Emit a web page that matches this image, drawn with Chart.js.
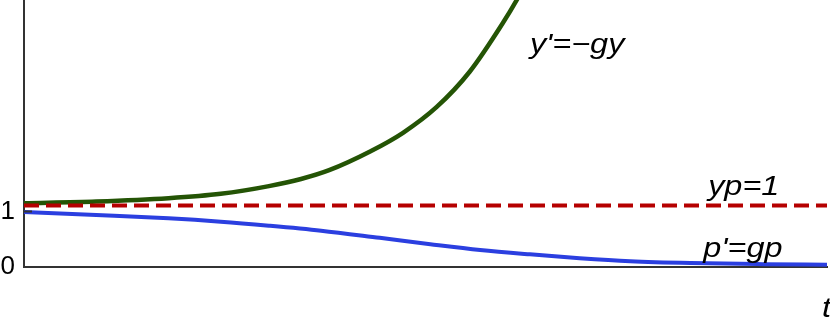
<!DOCTYPE html>
<html>
<head>
<meta charset="utf-8">
<script src="https://cdn.jsdelivr.net/npm/chart.js@4/dist/chart.umd.min.js"></script>
<style>
  html, body { margin: 0; padding: 0; background: #ffffff; }
  #wrap { width: 830px; height: 321px; }
</style>
</head>
<body>
<div id="wrap"><canvas id="c" width="830" height="321"></canvas></div>
<script>
// ---- data ----
const greenT = [0, 0.9, 1.8, 2.45, 3.05, 3.45, 3.8, 4.31, 4.72, 5.14, 5.55, 5.965, 6.15, 6.3];
const greenV = [1.16, 1.19, 1.25, 1.33, 1.47, 1.6, 1.76, 2.1, 2.44, 2.91, 3.55, 4.44, 4.89, 5.3];

const blueT = [0, 0.9, 1.8, 2.45, 3.05, 3.7, 4.43, 5.06, 5.68, 6.3, 6.92, 7.55, 8.3, 9.2, 10];
const blueV = [1.0, 0.945, 0.885, 0.824, 0.751, 0.66, 0.53, 0.415, 0.31, 0.23, 0.16, 0.105, 0.072, 0.052, 0.042];

const redT = [0, 10];
const redV = [1.12, 1.12];

const yTickValues = [0, 1];
const yTickLabels = ['0', '1'];

// annotation texts with their anchor in data units (left, baseline)
const labelTexts = ["y'=\u2212gy", "yp=1", "p'=gp"];
const labelT = [6.3, 8.52, 8.46];
const labelV = [3.89, 1.31, 0.18];
const axisTitle = 't';

const toPts = (xs, ys) => xs.map((x, i) => ({ x: x, y: ys[i] }));

const textPlugin = {
  id: 'textPlugin',
  afterDraw(chart) {
    const ctx = chart.ctx;
    const xs = chart.scales.x, ys = chart.scales.y;
    const ca = chart.chartArea;
    // small tick mark at value 1 on the y axis
    ctx.save();
    ctx.strokeStyle = '#333333';
    ctx.lineWidth = 2;
    const y1 = ys.getPixelForValue(1);
    ctx.beginPath();
    ctx.moveTo(ca.left, y1 - 0.5);
    ctx.lineTo(ca.left + 8, y1 - 0.5);
    ctx.stroke();
    ctx.restore();

    const stretch = 1.2;
    ctx.save();
    ctx.fillStyle = '#000000';
    ctx.font = 'italic 27px "Liberation Sans", Arial, sans-serif';
    ctx.textBaseline = 'alphabetic';
    ctx.textAlign = 'left';
    labelTexts.forEach((txt, i) => {
      const px = xs.getPixelForValue(labelT[i]);
      const py = ys.getPixelForValue(labelV[i]);
      ctx.save();
      ctx.translate(px, py);
      ctx.scale(stretch, 1);
      ctx.fillText(txt, 0, 0);
      ctx.restore();
    });
    // axis title "t"
    ctx.save();
    ctx.translate(ca.right - 5, ca.bottom + 50);
    ctx.scale(stretch, 1);
    ctx.fillText(axisTitle, 0, 0);
    ctx.restore();
    ctx.restore();
  }
};

new Chart(document.getElementById('c'), {
  type: 'line',
  data: {
    datasets: [
      {
        label: 'yp=1',
        data: toPts(redT, redV),
        borderColor: '#b50000',
        borderWidth: 4,
        borderDash: [15, 7],
        pointRadius: 0,
        fill: false
      },
      {
        label: "y'=-gy",
        data: toPts(greenT, greenV),
        borderColor: '#245405',
        borderWidth: 4.5,
        pointRadius: 0,
        cubicInterpolationMode: 'monotone',
        fill: false
      },
      {
        label: "p'=gp",
        data: toPts(blueT, blueV),
        borderColor: '#2b3fe0',
        borderWidth: 4,
        pointRadius: 0,
        cubicInterpolationMode: 'monotone',
        fill: false
      }
    ]
  },
  options: {
    responsive: false,
    animation: false,
    devicePixelRatio: 1,
    layout: { padding: { top: 0, right: 3, left: 0, bottom: 0 } },
    plugins: {
      legend: { display: false },
      tooltip: { enabled: false },
      title: { display: false }
    },
    scales: {
      x: {
        type: 'linear',
        min: 0,
        max: 10,
        grid: { display: false, drawTicks: false, tickLength: 0 },
        border: { display: true, color: '#333333', width: 2 },
        ticks: { display: false },
        afterFit(scale) {
          scale.height = 54;
          scale.paddingLeft = 0; scale.paddingRight = 0;
        }
      },
      y: {
        type: 'linear',
        min: 0,
        max: 4.8545,
        grid: { display: false, drawTicks: false, tickLength: 0 },
        border: { display: true, color: '#333333', width: 2 },
        afterBuildTicks(scale) {
          scale.ticks = yTickValues.map(v => ({ value: v }));
        },
        ticks: {
          color: '#000000',
          padding: 9,
          font: { family: '"Liberation Sans", Arial, sans-serif', size: 26 },
          callback(value) {
            const i = yTickValues.indexOf(value);
            return i >= 0 ? yTickLabels[i] : '';
          }
        },
        afterFit(scale) {
          scale.width = 24;
          scale.paddingTop = 0; scale.paddingBottom = 0;
        }
      }
    }
  },
  plugins: [textPlugin]
});
</script>
</body>
</html>
